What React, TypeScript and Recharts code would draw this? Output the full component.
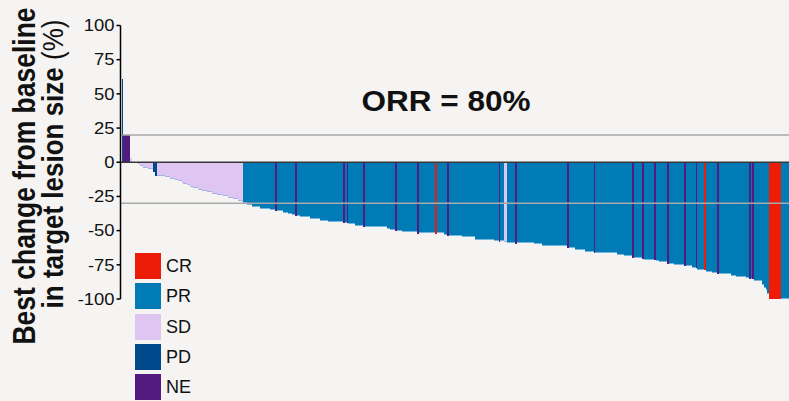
import React from 'react';
import { BarChart, Bar, XAxis, YAxis, ReferenceLine } from 'recharts';

// Best % change in target lesion size, one entry per patient, sorted high to low
const change: number[] = [
  61, 20, 20, 20, 20, 3, 0, 0, 0, 0,
  -1, -3, -3, -4, -4, -4, -5, -5, -5, -7,
  -10, -10, -10, -10, -10, -10, -11, -11, -11, -12,
  -12, -12, -13, -13, -14, -14, -15, -16, -16, -17,
  -17, -18, -18, -19, -19, -19, -20, -20, -21, -21,
  -21, -22, -22, -22, -23, -23, -23, -24, -24, -24,
  -24, -25, -25, -25, -26, -26, -26, -27, -27, -27,
  -28, -28, -29, -30, -30, -31.5, -31.5, -31.5, -32.5, -32.5,
  -33, -33, -33, -34, -34, -34, -34, -34, -34, -35,
  -35, -35, -35.5, -35.5, -35.5, -35.5, -35.5, -37, -37, -37,
  -37.5, -37.5, -38.5, -38.5, -39, -39.5, -39.5, -40, -40, -40,
  -40, -40, -40, -41.5, -41.5, -41.5, -41.5, -41.5, -41.5, -43,
  -43, -43, -43, -43, -43.5, -43.5, -43.5, -43.5, -43.5, -43.5,
  -43.5, -43.5, -43.5, -44.5, -44.5, -44.5, -45, -45, -45, -45,
  -46.5, -46.5, -46.5, -46.5, -46.5, -47, -47, -47, -47, -47,
  -47, -47, -47.5, -47.5, -47.5, -47.5, -47.5, -47.5, -47.5, -49,
  -49, -49.5, -49.5, -49.5, -50, -50.5, -50.5, -50.5, -51, -51,
  -51, -51, -51, -51, -51, -51, -51, -52.5, -52, -52,
  -52, -52, -52, -52, -52, -52, -52, -52, -52.5, -52,
  -52, -52, -52, -53, -53, -54, -54, -54, -54, -54,
  -54, -54, -54, -54, -55, -55, -55, -55, -55, -55,
  -55, -55, -56.5, -56.5, -56.5, -57, -57, -57, -57, -57,
  -57, -57, -57, -57.5, -57.5, -57.5, -58, -57.5, -57.5, -58.5,
  -58.5, -59, -59, -59, -59, -59, -59.5, -59, -59, -59,
  -59, -59, -59, -59, -59, -59, -59, -60, -60, -60,
  -60, -60, -61, -61, -61, -61, -61, -61, -61.5, -61.5,
  -61.5, -61.5, -61.5, -61.5, -61.5, -61.5, -61.5, -63, -63, -63,
  -63, -63, -64, -64, -64, -64.5, -64.5, -64.5, -65.5, -65.5,
  -65.5, -65.5, -65.5, -66, -66.5, -66.5, -66.5, -66.5, -66.5, -66.5,
  -66.5, -66.5, -66.5, -66.5, -66.5, -66.5, -66.5, -67.5, -67.5, -67.5,
  -67.5, -68.5, -68.5, -68.5, -68.5, -68.5, -70, -70, -70, -70,
  -70, -70, -71, -71.5, -71.5, -71.5, -71.5, -71.5, -71.5, -71.5,
  -72, -72, -73, -73, -73, -73, -73, -74.5, -74.5, -74.5,
  -74.5, -75, -75, -75, -75, -75, -75.5, -76, -76, -76,
  -76, -76, -77, -77, -77.5, -78.5, -78.5, -78.5, -78.5, -79,
  -80.5, -80.5, -80.5, -80.5, -81, -81, -81, -81.5, -82, -82,
  -82, -82, -82, -82, -82, -83, -83, -83, -84, -84,
  -84, -84, -84, -84, -85, -85, -85.5, -85.5, -85.5, -86.5,
  -86.5, -86.5, -86.5, -86.5, -90, -92, -93.5, -96, -100, -100,
  -100, -100, -100, -100, -100, -100, -100, -100, -100, -100,
];

// Best overall response per patient (C = CR, P = PR, S = SD, D = PD, N = NE), same order
const responseRows: string[] = [
  'DNNNNSSSSS', 'SSSSSSSSSD', 'DSSSSSSSSS', 'SSSSSSSSSS', 'SSSSSSSSSS',
  'SSSSSSSSSS', 'SSSSSSSSSS', 'SSSPPPPPPP', 'PPPPPPPPPP', 'PPNPPPPPPP',
  'PPPPNPPPPP', 'PPPPPPPPPP', 'PPPPPPPPPP', 'PPPNPNPPPP', 'PPPPPNPPPP',
  'PPPPPPPPPP', 'PPPPNPPPPP', 'PPPPPPPNPP', 'PPPPPPPPCP', 'PPPPPNPPPP',
  'PPPPPPPPPP', 'PPPPPPPPPP', 'PPPPPPNPPS', 'SPPPPPNPPP', 'PPPPPPPPPP',
  'PPPPPPPPPP', 'PPPPPPPNPP', 'PPPPPPPPPP', 'PPPNPPPPPP', 'PPPPPPPPPP',
  'PPPPPPNPPP', 'PPNPPPPPPN', 'PPPPPPPNPP', 'PPPPPPPNPP', 'PPPPNPPPPC',
  'PPPPPPPNPP', 'PPPPPPPPPP', 'PPPPPPNPNP', 'PPPPPPPPCC', 'CCCCCPPPPP',
];

const legendCodes = ['C', 'P', 'S', 'D', 'N'];
const legendNames = ['CR', 'PR', 'SD', 'PD', 'NE'];
const yTicks = [-100, -75, -50, -25, 0, 25, 50, 75, 100];
const orrLabel = 'ORR = 80%';

const colors: Record<string, { fill: string; edge?: string }> = {
  C: { fill: '#ED1C06' },
  P: { fill: '#007BB5', edge: '#74B6DE' },
  S: { fill: '#DFC6F2', edge: '#A4B4E8' },
  D: { fill: '#00498A' },
  N: { fill: '#531A80' },
};

const responseCodes = responseRows.join('');
const patients = change.map((v, i) => ({ id: i + 1, change: v, response: responseCodes[i] }));

const FONT = '"Liberation Sans", Arial, Helvetica, sans-serif';
const CHART_W = 789;
const CHART_H = 401;
const AXIS_W = 120.5;
const X_PAD = 1;
const BAND = (CHART_W - AXIS_W - X_PAD) / patients.length;

// bars are narrower than the px-rounded size recharts would give, so fill each band fully
const WaterfallBar = (props: any) => {
  const { x, y, height, payload } = props;
  if (!height) return null;
  const top = Math.min(y, y + height);
  const h = Math.abs(height);
  const c = colors[payload.response];
  return (
    <g shapeRendering="crispEdges">
      <rect x={x} y={top} width={BAND} height={h} fill={c.fill} />
      {payload.change < 0 && c.edge && (
        <rect x={x} y={top + h - 1} width={BAND} height={1} fill={c.edge} />
      )}
    </g>
  );
};

const YTick = ({ x, y, payload }: any) => (
  <text
    transform={`translate(${x},${y}) scale(1.15,1)`}
    textAnchor="end"
    dy="0.36em"
    fontSize={16}
    fontFamily={FONT}
    fill="#111"
  >
    {payload.value}
  </text>
);

const App: React.FC = () => {
  return (
    <div
      style={{
        position: 'absolute',
        left: 0,
        top: 0,
        width: CHART_W,
        height: CHART_H,
        background: '#F5F4F2',
        overflow: 'hidden',
        fontFamily: FONT,
      }}
    >
      <BarChart
        width={CHART_W}
        height={CHART_H}
        data={patients}
        margin={{ top: 25.5, right: 0, bottom: 102, left: 0 }}
        barCategoryGap={0}
        barGap={0}
      >
        <XAxis dataKey="id" hide padding={{ left: X_PAD, right: 0 }} />
        <YAxis
          width={AXIS_W}
          domain={[-100, 100]}
          ticks={yTicks}
          interval={0}
          tick={<YTick />}
          tickSize={4}
          tickMargin={2}
          axisLine={{ stroke: '#000', strokeWidth: 1.5 }}
          tickLine={{ stroke: '#000', strokeWidth: 1.5 }}
        />
        <Bar dataKey="change" isAnimationActive={false} shape={WaterfallBar} />
        <ReferenceLine y={20} stroke="#A9A9A9" strokeWidth={1.5} />
        <ReferenceLine y={-30} stroke="#A9A9A9" strokeWidth={1.5} />
        <ReferenceLine y={0} stroke="#383838" strokeWidth={1.6} />
      </BarChart>

      <svg
        width={CHART_W}
        height={CHART_H}
        style={{ position: 'absolute', left: 0, top: 0, pointerEvents: 'none' }}
      >
        <text
          transform="translate(35,176) scale(1.15,1) rotate(-90)"
          textAnchor="middle"
          fontSize={26.5}
          fontWeight="bold"
          fontFamily={FONT}
          fill="#111"
        >
          Best change from baseline
        </text>
        <text
          transform="translate(63,164) scale(1.15,1) rotate(-90)"
          textAnchor="middle"
          fontSize={26}
          fontFamily={FONT}
          fill="#111"
        >
          <tspan fontWeight="bold">in target lesion size</tspan> (%)
        </text>
        <text
          transform="translate(446,111) scale(1.05,1)"
          textAnchor="middle"
          fontSize={30}
          fontWeight="bold"
          fontFamily={FONT}
          fill="#111"
        >
          {orrLabel}
        </text>
      </svg>

      <div style={{ position: 'absolute', left: 135, top: 253 }}>
        {legendCodes.map((code, i) => (
          <div
            key={code}
            style={{ display: 'flex', alignItems: 'center', height: 26, marginBottom: 4.3 }}
          >
            <div style={{ width: 26, height: 26, background: colors[code].fill }} />
            <span style={{ marginLeft: 5, fontSize: 18, color: '#111', lineHeight: '26px' }}>
              {legendNames[i]}
            </span>
          </div>
        ))}
      </div>
    </div>
  );
};

export default App;
